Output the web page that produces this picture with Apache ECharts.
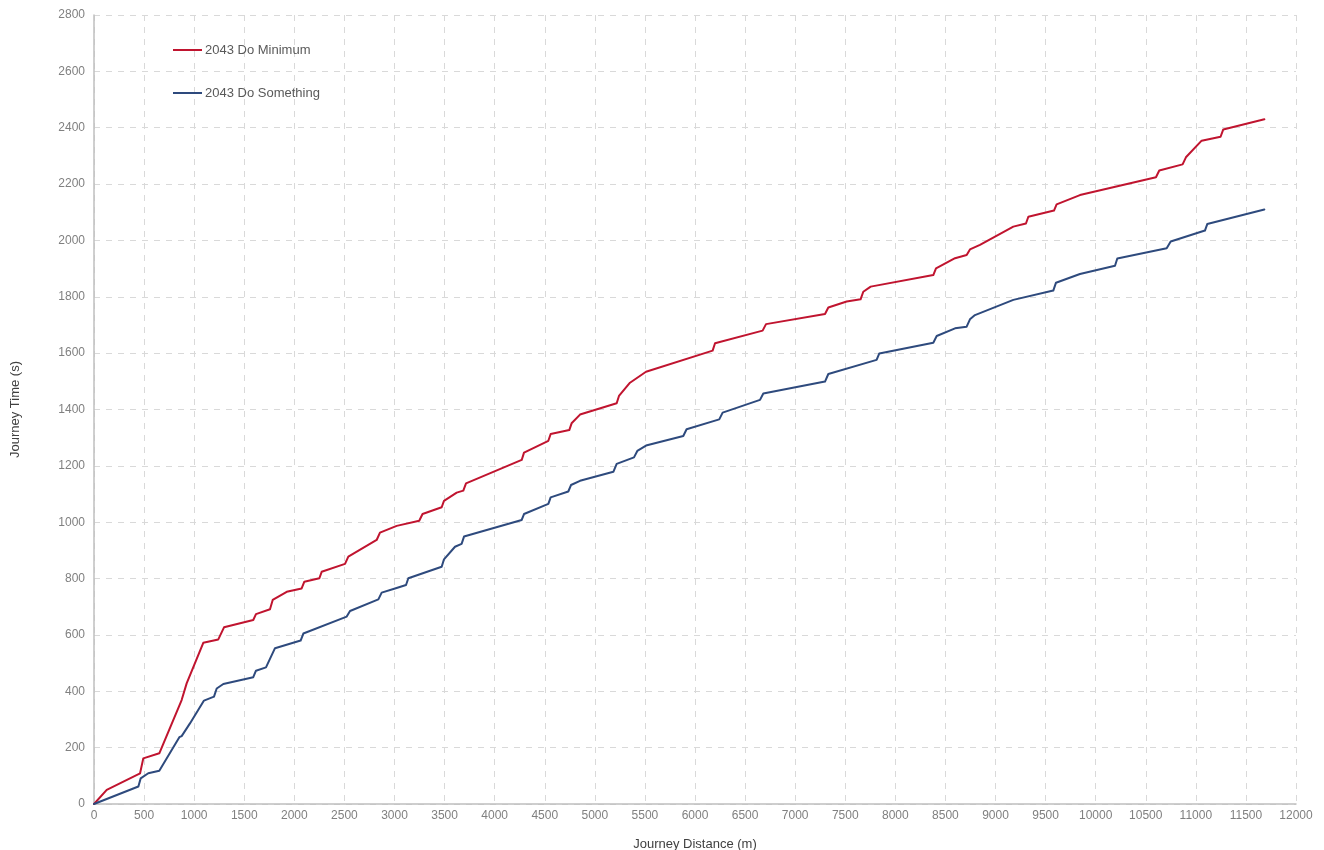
<!DOCTYPE html>
<html>
<head>
<meta charset="utf-8">
<title>Journey Time vs Distance</title>
<script src="https://cdn.jsdelivr.net/npm/echarts@6/dist/echarts.min.js"></script>
<style>
  html, body { margin: 0; padding: 0; background: #ffffff; }
  #chart { width: 1324px; height: 850px; }
</style>
</head>
<body>
<div id="chart"></div>
<script>
// Cumulative journey time (s) against journey distance (m), [distance, time]
const doMinimum = [
  [0,0],[127,50],[460,109],[492,162],[652,180],[875,369],[925,428],[1091,572],[1241,584],[1298,627],
  [1590,653],[1617,674],[1757,691],[1784,724],[1924,753],[2073,765],[2100,789],[2250,801],[2273,824],
  [2506,852],[2539,878],[2822,937],[2855,963],[3022,987],[3247,1005],[3280,1029],[3471,1053],[3494,1076],
  [3621,1105],[3687,1112],[3714,1138],[4270,1221],[4293,1247],[4536,1289],[4559,1313],[4745,1327],
  [4768,1351],[4852,1382],[5218,1422],[5241,1448],[5351,1495],[5511,1534],[6176,1609],[6200,1635],
  [6675,1680],[6709,1703],[7298,1739],[7331,1762],[7514,1783],[7653,1791],[7680,1818],[7754,1836],
  [8379,1877],[8406,1901],[8596,1937],[8712,1948],[8745,1968],[8845,1984],[9178,2049],[9304,2060],
  [9328,2084],[9584,2106],[9610,2128],[9843,2161],[10602,2224],[10635,2248],[10868,2270],[10901,2295],
  [11058,2354],[11247,2368],[11274,2394],[11684,2430]
];

const doSomething = [
  [0,0],[443,62],[466,91],[542,109],[652,118],[852,237],[875,241],[958,286],[1098,367],[1198,381],
  [1225,410],[1291,426],[1590,450],[1617,473],[1717,485],[1807,553],[2063,580],[2090,605],[2523,665],
  [2556,685],[2839,726],[2872,750],[3005,765],[3115,777],[3138,801],[3471,842],[3494,868],[3604,913],
  [3670,923],[3694,949],[4270,1008],[4293,1029],[4536,1065],[4559,1088],[4735,1109],[4762,1132],
  [4852,1147],[5185,1179],[5218,1207],[5391,1230],[5424,1253],[5511,1272],[5883,1306],[5916,1330],
  [6242,1365],[6276,1389],[6649,1434],[6682,1457],[7298,1499],[7331,1526],[7813,1576],[7840,1599],
  [8379,1637],[8413,1661],[8596,1688],[8712,1694],[8745,1720],[8795,1735],[9178,1789],[9577,1822],
  [9604,1850],[9843,1881],[10193,1910],[10216,1936],[10709,1972],[10749,1996],[11091,2035],[11114,2058],
  [11684,2110]
];

const seriesNames = ['2043 Do Minimum', '2043 Do Something'];
const seriesColors = ['#C0142F', '#2E4A7D'];
const xAxisRange = { min: 0, max: 12000, interval: 500 };
const yAxisRange = { min: 0, max: 2800, interval: 200 };

const FONT = '"Liberation Sans", Arial, sans-serif';
const gridLine = { show: true, lineStyle: { color: '#d9d9d9', type: [6, 6], width: 1 } };
const plainNumber = v => String(v);

const chart = echarts.init(document.getElementById('chart'), null, { renderer: 'canvas' });

chart.setOption({
  animation: false,
  backgroundColor: '#ffffff',
  textStyle: { fontFamily: FONT },
  grid: { left: 94, right: 28, top: 15, bottom: 46, containLabel: false, outerBoundsMode: 'none' },
  legend: {
    orient: 'vertical',
    left: 173,
    top: 43,
    padding: 0,
    icon: 'rect',
    itemWidth: 29,
    itemHeight: 2,
    itemGap: 29,
    textStyle: { color: '#595959', fontSize: 13, fontFamily: FONT, padding: [0, 0, 0, -2], lineHeight: 14 },
    data: seriesNames
  },
  xAxis: {
    type: 'value',
    min: xAxisRange.min,
    max: xAxisRange.max,
    interval: xAxisRange.interval,
    name: 'Journey Distance (m)',
    nameLocation: 'middle',
    nameGap: 34,
    nameTextStyle: { color: '#404040', fontSize: 13, fontFamily: FONT },
    axisLine: { show: true, lineStyle: { color: '#bfbfbf', width: 1.5 } },
    axisTick: { show: false },
    axisLabel: { color: '#808080', fontSize: 12, margin: 6, fontFamily: FONT, formatter: plainNumber },
    splitLine: gridLine
  },
  yAxis: {
    type: 'value',
    min: yAxisRange.min,
    max: yAxisRange.max,
    interval: yAxisRange.interval,
    name: 'Journey Time (s)',
    nameLocation: 'middle',
    nameGap: 72,
    nameRotate: 90,
    nameTextStyle: { color: '#404040', fontSize: 13, fontFamily: FONT },
    axisLine: { show: true, lineStyle: { color: '#bfbfbf', width: 1.5 } },
    axisTick: { show: false },
    axisLabel: { color: '#808080', fontSize: 12, margin: 9, fontFamily: FONT, formatter: plainNumber },
    splitLine: gridLine
  },
  series: [
    {
      name: seriesNames[0],
      type: 'line',
      data: doMinimum,
      symbol: 'none',
      color: seriesColors[0],
      lineStyle: { color: seriesColors[0], width: 2, join: 'round', cap: 'round' },
      z: 3
    },
    {
      name: seriesNames[1],
      type: 'line',
      data: doSomething,
      symbol: 'none',
      color: seriesColors[1],
      lineStyle: { color: seriesColors[1], width: 2, join: 'round', cap: 'round' },
      z: 3
    }
  ]
});
</script>
</body>
</html>
